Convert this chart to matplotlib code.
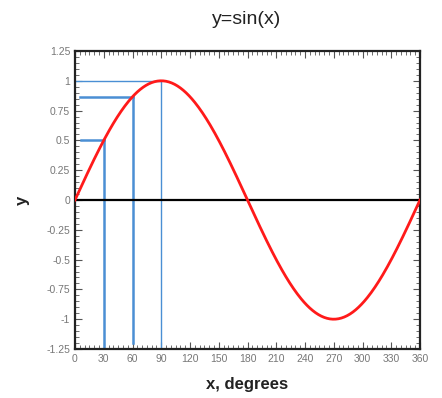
import numpy as np
import matplotlib
matplotlib.use("Agg")
import matplotlib.pyplot as plt
from matplotlib.ticker import MultipleLocator, FixedLocator

plt.rcParams['font.family'] = ['Liberation Sans', 'DejaVu Sans']

# Data
x_deg = np.linspace(0, 360, 361)
y_sin = np.sin(np.radians(x_deg))
ref_angles = [30, 60, 90]
ref_values = [0.5, 0.866, 1.0]
ref_hstart = [6, 5, 0]
ref_vstart = [-1.25, -1.2, -1.25]
ref_widths = [1.8, 1.8, 1.0]
x_ticks = list(range(0, 361, 30))
y_ticks = [-1.25, -1, -0.75, -0.5, -0.25, 0, 0.25, 0.5, 0.75, 1, 1.25]
y_labels = ["-1.25", "-1", "-0.75", "-0.5", "-0.25", "0", "0.25", "0.5", "0.75", "1", "1.25"]

fig = plt.figure(figsize=(4.42, 3.98), dpi=100)
ax = fig.add_axes([75/442, 1-349/398, 345/442, 298/398])

blue = "#4a8fd4"
for a, v, hs, vs, lw in zip(ref_angles, ref_values, ref_hstart, ref_vstart, ref_widths):
    ax.plot([hs, a], [v, v], color=blue, lw=lw, zorder=2)
    ax.plot([a, a], [vs, v], color=blue, lw=lw, zorder=2)

ax.axhline(0, color="black", lw=1.6, zorder=3)
ax.plot(x_deg, y_sin, color="#ff1a1a", lw=2.0, zorder=4)

ax.set_xlim(0, 360)
ax.set_ylim(-1.25, 1.25)
ax.xaxis.set_major_locator(FixedLocator(x_ticks))
ax.xaxis.set_minor_locator(MultipleLocator(5))
ax.yaxis.set_major_locator(FixedLocator(y_ticks))
ax.yaxis.set_minor_locator(MultipleLocator(0.05))
ax.set_yticklabels(y_labels)
ax.set_xticklabels([str(t) for t in x_ticks])
ax.tick_params(which="both", direction="in", top=True, right=True, colors="#555555",
               labelcolor="#777777", labelsize=7.5)
ax.tick_params(which="major", length=5, width=0.8)
ax.tick_params(which="minor", length=3, width=0.6)
for s in ax.spines.values():
    s.set_linewidth(1.6)
    s.set_color("#222222")

fig.text(247/442, 1-20/398, "y=sin(x)", ha="center", va="center", fontsize=14,
         color="#222222")
fig.text(247/442, 1-385/398, "x, degrees", ha="center", va="center", fontsize=12,
         fontweight="bold", color="#222222")
fig.text(22/442, 1-200/398, "y", ha="center", va="center", fontsize=12,
         fontweight="bold", rotation=90, color="#222222")

fig.savefig("out.png", dpi=100)
